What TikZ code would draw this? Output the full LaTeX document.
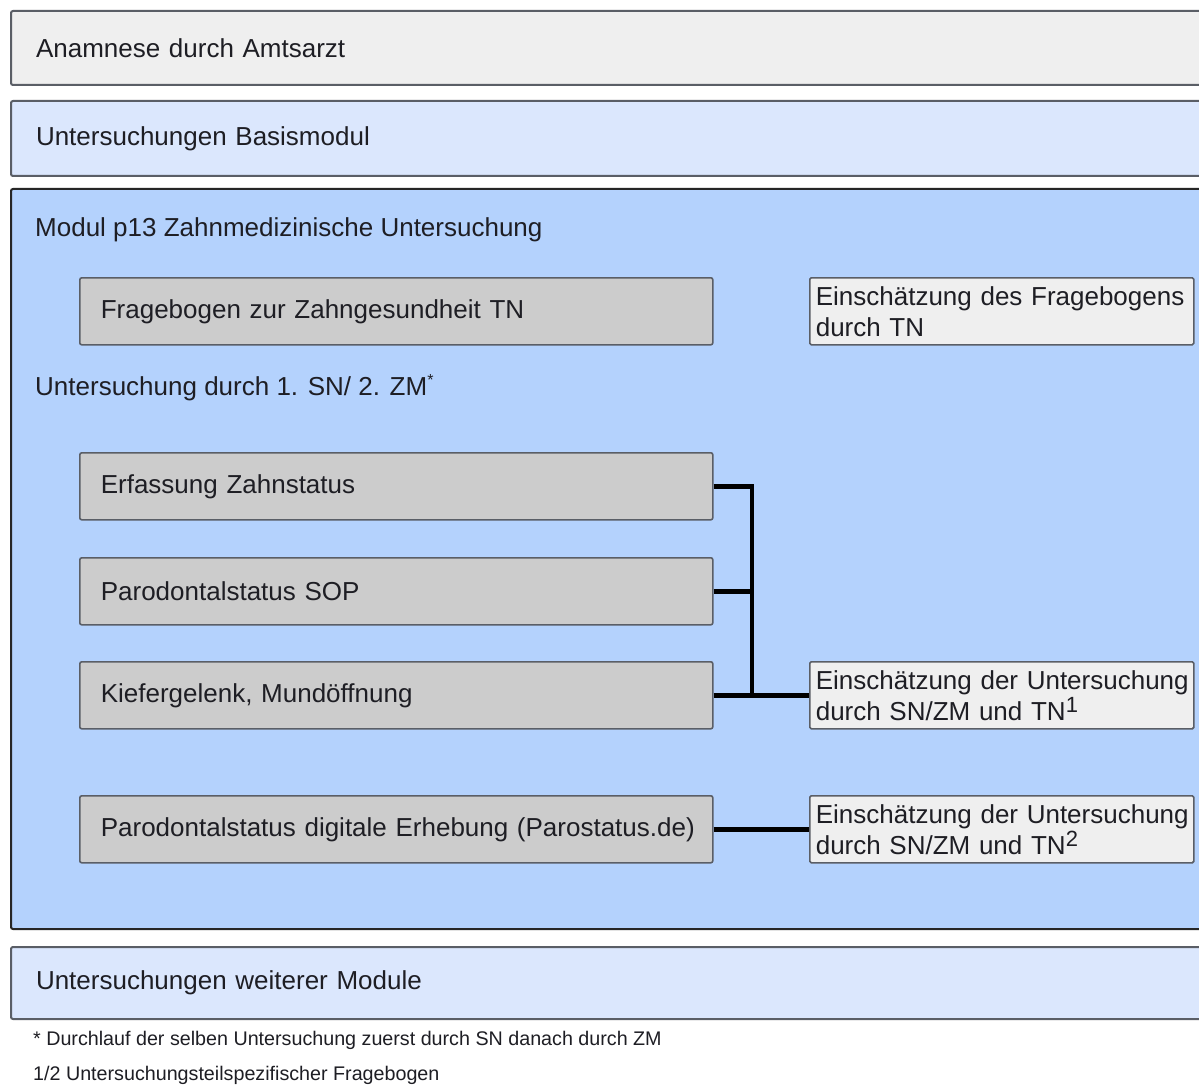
\documentclass[tikz,border=0pt]{standalone}
\usepackage{fontspec}
\setmainfont{Liberation Sans}
\definecolor{txt}{HTML}{1E1E24}
\definecolor{lgray}{HTML}{EFEFEF}
\definecolor{lblue}{HTML}{DBE7FD}
\definecolor{mblue}{HTML}{B4D2FD}
\definecolor{mgray}{HTML}{CCCCCC}
\definecolor{bord}{HTML}{5A5E66}
\newcommand{\supnum}[1]{\raisebox{8pt}{\fontsize{22}{22}\selectfont #1}}
\begin{document}
\begin{tikzpicture}[x=1pt,y=-1pt,
  every node/.style={text=txt},
  band/.style={draw=bord, line width=2pt, rounded corners=2pt, anchor=north west,
    minimum width=1210pt, text width=1160pt, inner xsep=25pt, align=left,
    font=\fontsize{26}{31}\selectfont},
  greybox/.style={draw=bord, line width=1.6pt, fill=mgray, rounded corners=2pt, anchor=north west,
    minimum width=633pt, minimum height=67pt, text width=591pt, inner xsep=21pt, align=left,
    font=\fontsize{26}{31}\selectfont},
  notebox/.style={draw=bord, line width=1.6pt, fill=lgray, rounded corners=1.5pt, anchor=north west,
    minimum width=384pt, minimum height=67pt, text width=372pt, inner xsep=6pt, inner ysep=2pt, align=left,
    font=\fontsize{26}{31}\selectfont},
  conn/.style={line width=4.5pt, draw=black},
  plain/.style={anchor=west, inner sep=0pt, font=\fontsize{26}{31}\selectfont},
  foot/.style={anchor=west, inner sep=0pt, font=\fontsize{19.7}{23}\selectfont}
]
\useasboundingbox (0,0) rectangle (1199,1086);
\clip (0,0) rectangle (1199,1086);
\fill[white] (0,0) rectangle (1199,1086);

\node[band, fill=lgray, minimum height=74pt] (anam) at (10,10) {Anamnese durch Amtsarzt};
\node[band, fill=lblue, minimum height=75pt] (basis) at (10,100) {Untersuchungen Basismodul};
\node[draw=black!85, line width=2pt, fill=mblue, rounded corners=2pt, anchor=north west,
  minimum width=1210pt, minimum height=740pt] (modul) at (10,188) {};
\node[plain] (title) at (35,230) {Modul p13 Zahnmedizinische Untersuchung};

\node[greybox] (frage) at (79,277) {Fragebogen zur Zahngesundheit TN};
\node[notebox] (efrage) at (809,277) {\mbox{Einschätzung des Fragebogens}\\durch TN};

\node[plain] (unters) at (35,388) {Untersuchung durch 1. SN/ 2. ZM\raisebox{10pt}{\fontsize{16}{16}\selectfont *}};

\node[greybox] (erf) at (79,452) {Erfassung Zahnstatus};
\node[greybox] (sop) at (79,557) {Parodontalstatus SOP};
\node[greybox] (kief) at (79,661) {Kiefergelenk, Mundöffnung};
\node[notebox] (e1) at (809,661) {\mbox{Einschätzung der Untersuchung}\\durch SN/ZM und TN\supnum{1}};

\node[greybox] (digi) at (79,795) {\mbox{Parodontalstatus digitale Erhebung (Parostatus.de)}};
\node[notebox] (e2) at (809,795) {\mbox{Einschätzung der Untersuchung}\\durch SN/ZM und TN\supnum{2}};

\coordinate (jx) at (752,0);
\draw[conn] (erf.east) -- (erf.east -| jx) -- (kief.east -| jx);
\draw[conn] (sop.east) -- (sop.east -| jx);
\draw[conn] (kief.east) -- (e1.west);
\draw[conn] (digi.east) -- (e2.west);

\node[band, fill=lblue, minimum height=72pt] (weitere) at (10,946) {Untersuchungen weiterer Module};

\node[foot] (f1) at (33,1040) {* Durchlauf der selben Untersuchung zuerst durch SN danach durch ZM};
\node[foot] (f2) at (33,1075) {1/2 Untersuchungsteilspezifischer Fragebogen};
\end{tikzpicture}
\end{document}
